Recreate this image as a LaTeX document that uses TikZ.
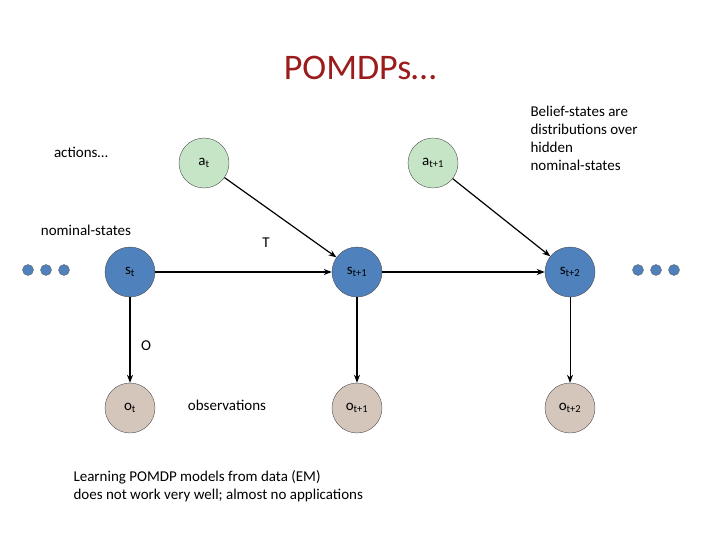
\documentclass[tikz,border=0pt]{standalone}
\usepackage{fontspec}
\setmainfont{Carlito}
\usetikzlibrary{arrows.meta}
\definecolor{ag}{HTML}{C6E5C6}
\definecolor{sb}{HTML}{4F81BD}
\definecolor{ot}{HTML}{D5C6BC}
\definecolor{tr}{HTML}{9B1C1C}
\begin{document}
\begin{tikzpicture}[x=1pt,y=-1pt,
 nd/.style={circle,draw=black!70,minimum size=50pt,inner sep=0pt,font=\fontsize{15}{16}\selectfont},
 an/.style={nd,fill=ag}, sn/.style={nd,fill=sb}, on/.style={nd,fill=ot},
 dot/.style={circle,fill=sb,draw=black!60,minimum size=11pt,inner sep=0pt},
 ar/.style={-{Stealth[length=8pt,width=6pt]},line width=1.2pt},
 lb/.style={font=\fontsize{15}{18}\selectfont,align=left}]
\useasboundingbox (0,0) rectangle (720,540);
\node[font=\fontsize{36}{40}\selectfont,text=tr] (title) at (360,68) {POMDPs…};
\node[an] (a1) at (204,163) {a\textsubscript{t}};
\node[an] (a2) at (433,163) {a\textsubscript{t+1}};
\node[sn] (s1) at (130,272) {s\textsubscript{t}};
\node[sn] (s2) at (357,272) {s\textsubscript{t+1}};
\node[sn] (s3) at (570,272) {s\textsubscript{t+2}};
\node[on] (o1) at (130,408) {o\textsubscript{t}};
\node[on] (o2) at (357,408) {o\textsubscript{t+1}};
\node[on] (o3) at (570,408) {o\textsubscript{t+2}};
\foreach \x/\n in {28/l1,46/l2,64/l3,638/r1,656/r2,674/r3}
  \node[dot] (\n) at (\x,270) {};
\draw[ar] (s1) -- (s2);
\draw[ar] (s2) -- (s3);
\draw[ar] (a1) -- (s2);
\draw[ar] (a2) -- (s3);
\draw[ar] (s1) -- (o1);
\draw[ar] (s2) -- (o2);
\draw[-{Stealth[length=8pt,width=6pt]},line width=0.7pt] (s3) -- (o3);
\node[lb] (la) at (81,152) {actions…};
\node[lb] (ln) at (86,230) {nominal-states};
\node[lb] (lT) at (266,243) {T};
\node[lb] (lO) at (146,346) {O};
\node[lb] (lo) at (227,405) {observations};
\node[lb,anchor=west] (lbel) at (527,138) {Belief-states are\\distributions over\\hidden\\nominal-states};
\node[lb,anchor=west] (ll) at (70,486) {Learning POMDP models from data (EM)\\does not work very well; almost no applications};
\end{tikzpicture}
\end{document}
